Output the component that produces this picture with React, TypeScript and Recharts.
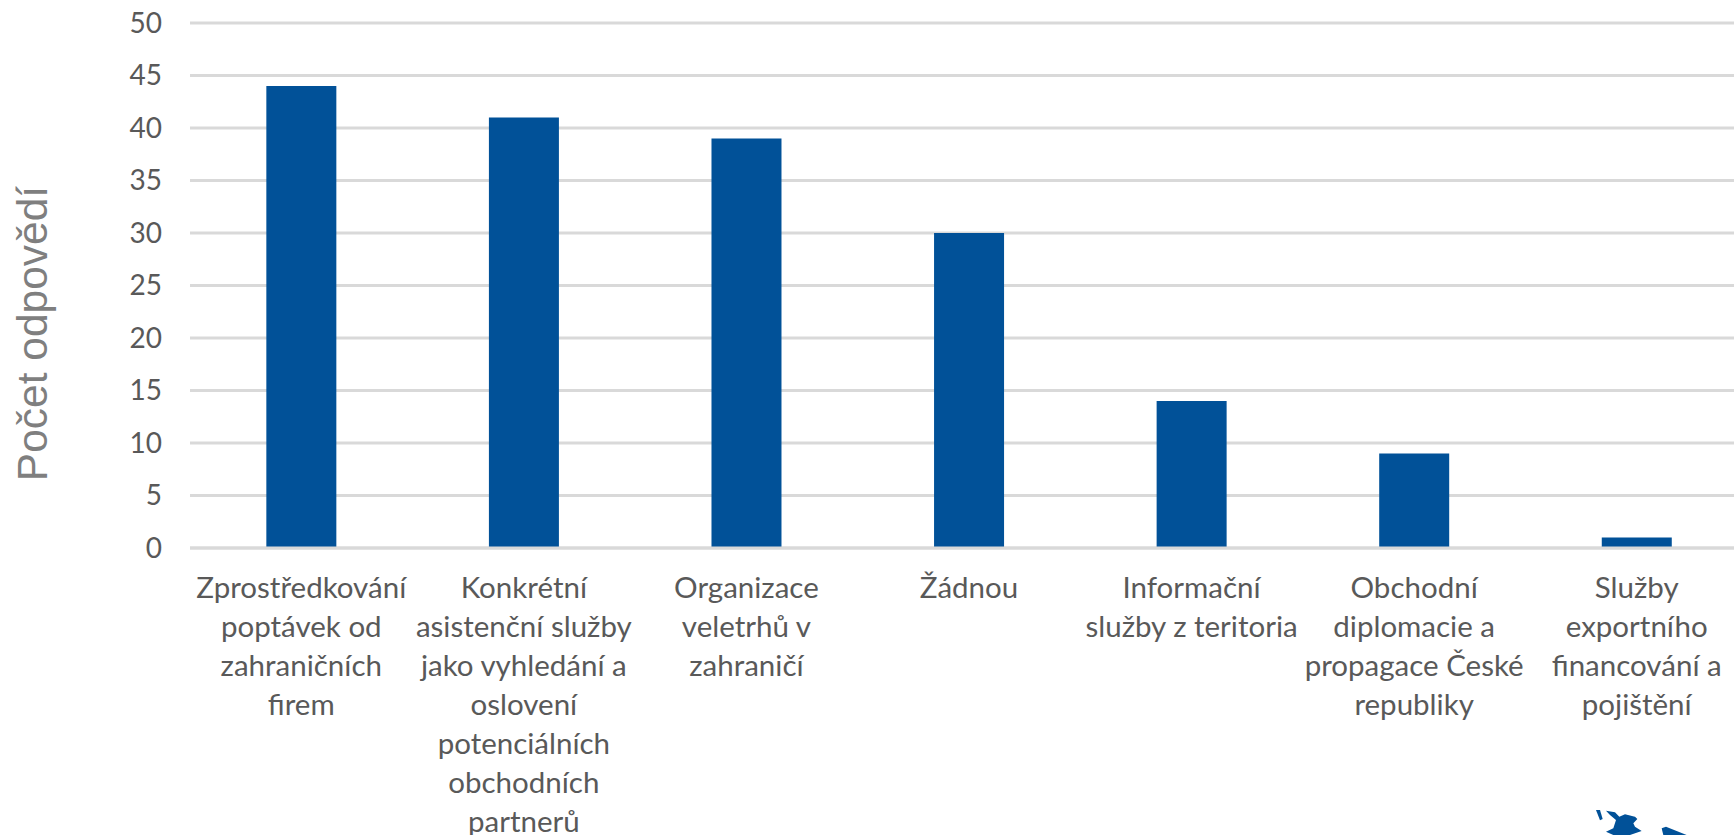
import { BarChart, Bar, XAxis, YAxis, CartesianGrid } from 'recharts';

const categories = [
  ['Zprostředkování', 'poptávek od', 'zahraničních', 'firem'],
  ['Konkrétní', 'asistenční služby', 'jako vyhledání a', 'oslovení', 'potenciálních', 'obchodních', 'partnerů'],
  ['Organizace', 'veletrhů v', 'zahraničí'],
  ['Žádnou'],
  ['Informační', 'služby z teritoria'],
  ['Obchodní', 'diplomacie a', 'propagace České', 'republiky'],
  ['Služby', 'exportního', 'financování a', 'pojištění'],
];
const answers = [44, 41, 39, 30, 14, 9, 1];
const yTicks = [0, 5, 10, 15, 20, 25, 30, 35, 40, 45, 50];

const chartData = categories.map((lines, i) => ({ name: lines.join(' '), answers: answers[i] }));

const labelFont = 'Lato, Carlito, sans-serif';

const CategoryTick = ({ x, y, index }: any) => (
  <text x={x} y={y} textAnchor="middle" fill="#595959" fontFamily={labelFont} fontSize={29.5}>
    {categories[index].map((line, i) => (
      <tspan key={i} x={x} y={y + 42 + i * 39}>{line}</tspan>
    ))}
  </text>
);

// corner of the map logo, cut off by the bottom edge of the picture
const MapLogo = () => (
  <svg viewBox="0 0 462 120" width={154} height={40} style={{ position: 'absolute', left: 1580, top: 795 }}>
    <g fill="#015198">
      <path d="M48 45 L60 45 L68 72 L60 76 Z" />
      <path d="M78 47 L105 52 L118 65 L135 58 L165 65 L172 72 L160 85 L165 95 L185 108 L150 120 L100 120 L78 110 L100 100 L108 75 L90 60 Z" />
      <path d="M245 100 L258 95 L320 120 L250 120 Z" />
    </g>
  </svg>
);

const App = () => {
  return (
    <div style={{ position: 'absolute', left: 0, top: 0, width: 1734, height: 835, overflow: 'hidden', background: '#fff' }}>
      <BarChart
        width={1748}
        height={835}
        data={chartData}
        margin={{ top: 23, right: 0, bottom: 0, left: 0 }}
        barCategoryGap="34.3%"
      >
        <CartesianGrid vertical={false} stroke="#d9d9d9" strokeWidth={3} />
        <XAxis
          dataKey="name"
          interval={0}
          height={287}
          axisLine={{ stroke: '#d9d9d9', strokeWidth: 3 }}
          tickLine={false}
          tick={<CategoryTick />}
        />
        <YAxis
          width={190}
          domain={[0, 50]}
          ticks={yTicks}
          axisLine={false}
          tickLine={false}
          tickMargin={22}
          tick={{ fill: '#595959', fontFamily: labelFont, fontSize: 28 }}
          label={{
            value: 'Počet odpovědí',
            angle: -90,
            position: 'insideLeft',
            offset: 0,
            dx: 32,
            dy: 48,
            style: { fill: '#7f7f7f', fontFamily: '"Liberation Sans", Arial, sans-serif', fontSize: 42.5, textAnchor: 'middle' },
          }}
        />
        <Bar dataKey="answers" fill="#015198" isAnimationActive={false} />
      </BarChart>
      <MapLogo />
    </div>
  );
};

export default App;
